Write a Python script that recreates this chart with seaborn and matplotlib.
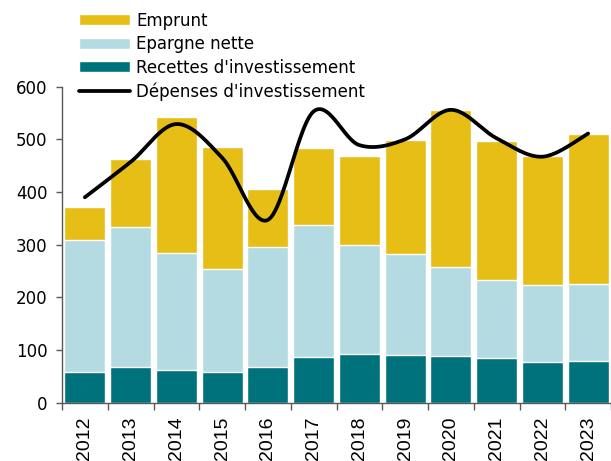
import numpy as np
import seaborn as sns
import matplotlib.pyplot as plt

years = ["2012", "2013", "2014", "2015", "2016", "2017",
         "2018", "2019", "2020", "2021", "2022", "2023"]
recettes = [58, 67, 62, 59, 67, 87, 92, 91, 89, 84, 78, 79]
epargne = [251, 267, 222, 195, 229, 250, 207, 191, 169, 149, 145, 146]
emprunt = [63, 129, 259, 231, 110, 147, 169, 217, 297, 264, 245, 285]
depenses = [390, 457, 529, 465, 347, 553, 489, 500, 556, 502, 467, 511]

c_emprunt = "#E6BE16"
c_epargne = "#B4DBE1"
c_recettes = "#00727C"


def smooth_line(y, n=30):
    # excel-like smoothed line (bezier through the points)
    pts = np.column_stack([np.arange(len(y)), np.asarray(y, float)])
    out = []
    for i in range(len(pts) - 1):
        p0 = pts[max(i - 1, 0)]
        p1, p2 = pts[i], pts[i + 1]
        p3 = pts[min(i + 2, len(pts) - 1)]
        c1 = p1 + (p2 - p0) / 6
        c2 = p2 - (p3 - p1) / 6
        t = np.linspace(0, 1, n)[:, None]
        seg = ((1 - t) ** 3) * p1 + 3 * ((1 - t) ** 2) * t * c1 + 3 * (1 - t) * t ** 2 * c2 + t ** 3 * p2
        out.append(seg if i == 0 else seg[1:])
    out = np.vstack(out)
    return out[:, 0], out[:, 1]


sns.set_theme(style="white")
plt.rcParams["font.family"] = ["DejaVu Sans"]
plt.rcParams["text.color"] = "black"
plt.rcParams["xtick.labelcolor"] = "black"
plt.rcParams["ytick.labelcolor"] = "black"

fig = plt.figure(figsize=(6.11, 4.61), dpi=100)
ax = fig.add_axes([62 / 611, 0.1265, 549 / 611, 0.6855])

top_mid = np.array(recettes) + np.array(epargne)
total = top_mid + np.array(emprunt)

# stacked bars: draw cumulative totals back to front
sns.barplot(x=years, y=total, color=c_emprunt, width=0.9, saturation=1, ax=ax, label="Emprunt")
sns.barplot(x=years, y=top_mid, color=c_epargne, width=0.9, saturation=1, ax=ax, label="Epargne nette")
sns.barplot(x=years, y=recettes, color=c_recettes, width=0.9, saturation=1, ax=ax,
            label="Recettes d'investissement")

xs, ys = smooth_line(depenses)
sns.lineplot(x=xs, y=ys, sort=False, estimator=None, color="black", lw=2.7, ax=ax,
             label="Dépenses d'investissement")

ax.set_xlim(-0.5, -0.5 + 549 / 46.2)
ax.set_ylim(0, 600)
ax.set_yticks(range(0, 601, 100))
ax.set_xlabel("")
ax.set_ylabel("")

sns.despine(ax=ax)
for s in ["left", "bottom"]:
    ax.spines[s].set_color("#595959")
    ax.spines[s].set_linewidth(1)

ax.set_xticks(range(len(years)))
ax.set_xticklabels(years, rotation=90, fontsize=14, family="Liberation Sans", color="black")
ax.set_xticks(np.arange(len(years) + 1) - 0.5, minor=True)
ax.tick_params(axis="x", which="major", length=0, pad=10)
ax.tick_params(axis="x", which="minor", bottom=True, length=5, width=1, color="#595959")
ax.tick_params(axis="y", left=True, length=4.5, width=1, color="#595959", pad=6,
               labelsize=12, labelcolor="black")

handles, labels = ax.get_legend_handles_labels()
order = ["Emprunt", "Epargne nette", "Recettes d'investissement", "Dépenses d'investissement"]
idx = [labels.index(o) for o in order]
leg = ax.legend([handles[i] for i in idx], [labels[i] for i in idx], loc="upper left",
                bbox_to_anchor=(79 / 611, 0.975),
                bbox_transform=fig.transFigure, frameon=False, fontsize=12,
                handlelength=3.05, handleheight=0.65, handletextpad=0.4, labelspacing=0.33,
                borderpad=0, borderaxespad=0)
for t in leg.get_texts():
    t.set_color("black")

fig.savefig("out.png", dpi=100)
